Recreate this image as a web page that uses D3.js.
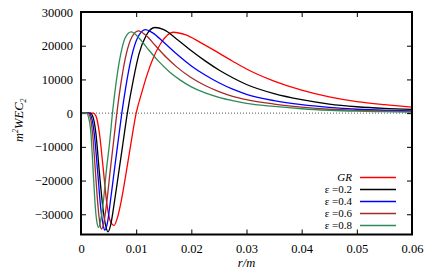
<!DOCTYPE html>
<html>
<head>
<meta charset="utf-8">
<script src="https://cdn.jsdelivr.net/npm/d3@7"></script>
<style>
  body { margin: 0; background: #fff; }
  svg text { font-family: "Liberation Serif", "Times New Roman", serif; }
</style>
</head>
<body>
<svg width="436" height="273"></svg>
<script>
// series: [r/m, m^2 WEC_2]
let gr = [
  [0, 0], [0.0022, 0], [0.0027, -800], [0.0033, -5500], [0.0040, -16000],
  [0.0047, -27000], [0.0053, -32000], [0.0060, -33300], [0.0066, -31000],
  [0.0073, -26000], [0.0080, -19500], [0.0090, -9500], [0.0100, 0],
  [0.0110, 6000], [0.0120, 11500], [0.0130, 16000], [0.0145, 20800],
  [0.0167, 24000], [0.0190, 23200], [0.0216, 21000], [0.0250, 17800],
  [0.0275, 15400], [0.0300, 13100], [0.0350, 9500], [0.0400, 6800],
  [0.0450, 4800], [0.0500, 3400], [0.0550, 2500], [0.0600, 1800]
];
let e02 = [
  [0, 0], [0.0017, 0], [0.0021, -800], [0.0027, -6000], [0.0033, -17000],
  [0.0040, -28500], [0.0045, -33500], [0.0049, -35200], [0.0054, -33000],
  [0.0060, -27000], [0.0068, -18000], [0.0076, -9000], [0.0084, 0],
  [0.0095, 10000], [0.0105, 17500], [0.0118, 23000], [0.0134, 25400],
  [0.0150, 24800], [0.0175, 21800], [0.0200, 18500], [0.0225, 15500],
  [0.0250, 12800], [0.0275, 10500], [0.0300, 8500], [0.0350, 5800],
  [0.0400, 4000], [0.0450, 2700], [0.0500, 1900], [0.0550, 1400], [0.0600, 1100]
];
let e04 = [
  [0, 0], [0.0014, 0], [0.0018, -800], [0.0024, -6000], [0.0030, -17000],
  [0.0036, -28500], [0.0040, -33000], [0.0043, -34700], [0.0048, -32500],
  [0.0053, -26500], [0.0060, -17500], [0.0067, -8700], [0.0074, 0],
  [0.0083, 9500], [0.0092, 17000], [0.0103, 22500], [0.0117, 24800],
  [0.0130, 23800], [0.0150, 21000], [0.0175, 17300], [0.0200, 14000],
  [0.0225, 11300], [0.0250, 9000], [0.0275, 7100], [0.0300, 5600],
  [0.0350, 3700], [0.0400, 2500], [0.0450, 1700], [0.0500, 1150],
  [0.0550, 850], [0.0600, 700]
];
let e06 = [
  [0, 0], [0.0012, 0], [0.0016, -800], [0.0021, -6000], [0.0026, -17000],
  [0.0031, -28000], [0.0034, -32500], [0.0037, -34400], [0.0042, -32000],
  [0.0047, -26000], [0.0053, -17000], [0.0059, -8500], [0.0065, 0],
  [0.0073, 9500], [0.0082, 17500], [0.0092, 22500], [0.0104, 24400],
  [0.0118, 23000], [0.0135, 20000], [0.0155, 16500], [0.0175, 13500],
  [0.0200, 10500], [0.0225, 8200], [0.0250, 6400], [0.0275, 5000],
  [0.0300, 4000], [0.0350, 2700], [0.0400, 1800], [0.0450, 1150],
  [0.0500, 800], [0.0550, 600], [0.0600, 450]
];
let e08 = [
  [0, 0], [0.0010, 0], [0.0013, -800], [0.0018, -6000], [0.0022, -17000],
  [0.0026, -28000], [0.0029, -32500], [0.0032, -33900], [0.0036, -31500],
  [0.0041, -25500], [0.0046, -17000], [0.0052, -8500], [0.0057, 0],
  [0.0064, 9500], [0.0072, 17500], [0.0080, 22300], [0.0091, 24100],
  [0.0105, 22300], [0.0120, 19300], [0.0140, 15500], [0.0160, 12300],
  [0.0180, 9800], [0.0200, 7800], [0.0225, 6000], [0.0250, 4700],
  [0.0275, 3700], [0.0300, 2900], [0.0350, 2000], [0.0400, 1300],
  [0.0450, 850], [0.0500, 580], [0.0550, 420], [0.0600, 300]
];

let names = ["GR", "\u03b5 =0.2", "\u03b5 =0.4", "\u03b5 =0.6", "\u03b5 =0.8"];
let colors = ["#ff0000", "#000000", "#0000ff", "#a52a2a", "#2e8b57"];
let series = [gr, e02, e04, e06, e08];

let xTicks = [0, 0.01, 0.02, 0.03, 0.04, 0.05, 0.06];
let yTicks = [-30000, -20000, -10000, 0, 10000, 20000, 30000];

let svg = d3.select("svg");
let pLeft = 81, pRight = 412, pTop = 12, pBottom = 234.5;
let serif = "'Liberation Serif', 'Times New Roman', serif";

let x = d3.scaleLinear().domain([0, 0.06]).range([pLeft, pRight]);
let y = d3.scaleLinear().domain([-36000, 30000]).range([pBottom, pTop]);

// zero line
svg.append("line")
  .attr("x1", pLeft).attr("x2", pRight)
  .attr("y1", y(0)).attr("y2", y(0))
  .attr("stroke", "#555").attr("stroke-width", 1)
  .attr("stroke-dasharray", "1,2");

// axes, ticks pointing inward, mirrored
let fmtX = function (d) { return d === 0 ? "0" : d3.format(".2f")(d); };
svg.append("g").attr("transform", "translate(0," + pBottom + ")")
  .call(d3.axisTop(x).tickValues(xTicks).tickSize(5).tickFormat(""));
svg.append("g").attr("transform", "translate(0," + pBottom + ")")
  .call(d3.axisBottom(x).tickValues(xTicks).tickSize(0).tickPadding(10).tickFormat(fmtX));
svg.append("g").attr("transform", "translate(0," + pTop + ")")
  .call(d3.axisBottom(x).tickValues(xTicks).tickSize(5).tickFormat(""));
svg.append("g").attr("transform", "translate(" + pLeft + ",0)")
  .call(d3.axisRight(y).tickValues(yTicks).tickSize(5).tickFormat(""));
svg.append("g").attr("transform", "translate(" + pLeft + ",0)")
  .call(d3.axisLeft(y).tickValues(yTicks).tickSize(0).tickPadding(8)
    .tickFormat(function (d) { return d < 0 ? "\u2212" + Math.abs(d) : d; }));
svg.append("g").attr("transform", "translate(" + pRight + ",0)")
  .call(d3.axisLeft(y).tickValues(yTicks).tickSize(5).tickFormat(""));

svg.selectAll(".domain").remove();
svg.selectAll(".tick line").attr("stroke", "#000").attr("stroke-width", 1);
svg.selectAll(".tick text").style("font-family", serif)
  .style("font-size", "12.5px").attr("fill", "#000");

// curves
let line = d3.line()
  .x(function (d) { return x(d[0]); })
  .y(function (d) { return y(d[1]); })
  .curve(d3.curveMonotoneX);

svg.selectAll(".curve")
  .data(series)
  .enter()
  .append("path")
  .attr("class", "curve")
  .attr("d", line)
  .attr("fill", "none")
  .attr("stroke", function (d, i) { return colors[i]; })
  .attr("stroke-width", 1.3);

// frame
svg.append("rect")
  .attr("x", pLeft).attr("y", pTop)
  .attr("width", pRight - pLeft).attr("height", pBottom - pTop)
  .attr("fill", "none").attr("stroke", "#000").attr("stroke-width", 2);

// legend
let leg = svg.append("g");
names.forEach(function (n, i) {
  let ly = 177.5 + i * 12;
  leg.append("text")
    .attr("x", 352).attr("y", ly + 3.5)
    .attr("text-anchor", "end")
    .style("font-family", serif)
    .style("font-size", "11px")
    .style("font-style", i === 0 ? "italic" : "normal")
    .text(n);
  leg.append("line")
    .attr("x1", 360).attr("x2", 396)
    .attr("y1", ly).attr("y2", ly)
    .attr("stroke", colors[i]).attr("stroke-width", 1.3);
});

// axis titles
svg.append("text")
  .attr("x", (pLeft + pRight) / 2).attr("y", 267)
  .attr("text-anchor", "middle")
  .style("font-family", serif)
  .style("font-size", "12.5px").style("font-style", "italic")
  .text("r/m");

let yt = svg.append("text")
  .attr("transform", "translate(23," + ((pTop + pBottom) / 2 - 3) + ") rotate(-90)")
  .attr("text-anchor", "middle")
  .style("font-family", serif)
  .style("font-size", "12.5px").style("font-style", "italic");
yt.append("tspan").text("m");
yt.append("tspan").style("font-size", "8px").attr("dy", -5).text("2");
yt.append("tspan").attr("dy", 5).text("WEC");
yt.append("tspan").style("font-size", "8px").attr("dy", 3).text("2");
</script>
</body>
</html>
